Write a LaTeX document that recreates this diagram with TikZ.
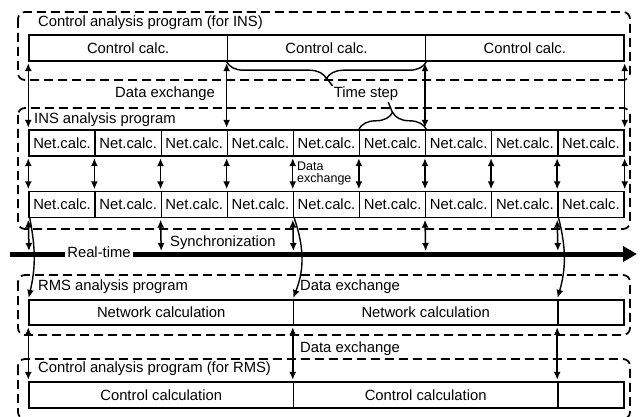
\documentclass[tikz,border=0pt]{standalone}
\usepackage{fontspec}
\setmainfont{Liberation Sans}
\usetikzlibrary{arrows.meta}
\usetikzlibrary{decorations.pathreplacing}

\begin{document}
\begin{tikzpicture}
        [
            x = 1pt, y = -1pt,
            > = {Latex[length=8pt, width=7pt]},
            font = \fontsize{14.8}{17}\selectfont,
            box/.style = {rectangle, draw=black, line width=1.4pt, inner sep=0pt, minimum height=26pt, align=center},
            net/.style = {box, minimum width=66.11pt},
            ctl/.style = {box, minimum width=198.33pt},
            wide/.style = {box, minimum width=264.44pt},
            group/.style = {draw=black, line width=1.8pt, dash pattern=on 9pt off 5pt, rounded corners=7pt},
            lbl/.style = {inner sep=0pt, anchor=west},
            link/.style = {<->, line width=1.5pt, shorten <=1.5pt, shorten >=1.5pt},
            brace/.style = {decorate, decoration={brace, amplitude=17pt}, line width=1.4pt},
            timeline/.style = {-{Triangle[length=14pt, width=15pt]}, line width=5pt}
        ]
        \useasboundingbox (0, 0) rectangle (640, 417);

        % program frames
        \draw [group] (18, 12) rectangle (630, 80);
        \draw [group] (18, 108) rectangle (630, 229);
        \draw [group] (18, 275) rectangle (630, 335);
        \draw [group] (18, 359) rectangle (630, 419);

        \node [lbl] at (38, 23) (ctlinslbl) {Control analysis program (for INS)};
        \node [lbl] at (34, 120) (inslbl) {INS analysis program};
        \node [lbl] at (38, 287) (rmslbl) {RMS analysis program};
        \node [lbl] at (38, 369) (ctlrmslbl) {Control analysis program (for RMS)};

        % control (INS)
        \node [ctl] at (128.17, 48) (cins1) {Control calc.};
        \node [ctl] at (326.5, 48) (cins2) {Control calc.};
        \node [ctl] at (524.83, 48) (cins3) {Control calc.};

        % INS net calc, two rows
        \node [net] at (62.06, 143) (na1) {Net.calc.};
        \node [net] at (128.17, 143) (na2) {Net.calc.};
        \node [net] at (194.28, 143) (na3) {Net.calc.};
        \node [net] at (260.39, 143) (na4) {Net.calc.};
        \node [net] at (326.5, 143) (na5) {Net.calc.};
        \node [net] at (392.61, 143) (na6) {Net.calc.};
        \node [net] at (458.72, 143) (na7) {Net.calc.};
        \node [net] at (524.83, 143) (na8) {Net.calc.};
        \node [net] at (590.94, 143) (na9) {Net.calc.};

        \node [net] at (62.06, 204.5) (nb1) {Net.calc.};
        \node [net] at (128.17, 204.5) (nb2) {Net.calc.};
        \node [net] at (194.28, 204.5) (nb3) {Net.calc.};
        \node [net] at (260.39, 204.5) (nb4) {Net.calc.};
        \node [net] at (326.5, 204.5) (nb5) {Net.calc.};
        \node [net] at (392.61, 204.5) (nb6) {Net.calc.};
        \node [net] at (458.72, 204.5) (nb7) {Net.calc.};
        \node [net] at (524.83, 204.5) (nb8) {Net.calc.};
        \node [net] at (590.94, 204.5) (nb9) {Net.calc.};

        % RMS network and control
        \node [wide, minimum height=25pt] at (161.22, 312.5) (rms1) {Network calculation};
        \node [wide, minimum height=25pt] at (425.67, 312.5) (rms2) {Network calculation};
        \node [net, minimum height=25pt] at (590.94, 312.5) (rms3) {};
        \node [wide] at (161.22, 395) (crms1) {Control calculation};
        \node [wide] at (425.67, 395) (crms2) {Control calculation};
        \node [net] at (590.94, 395) (crms3) {};

        % labels
        \node at (165, 94) (dxtop) {Data exchange};
        \node [inner sep=1pt] at (366, 94) (tstep) {Time step};
        \node [lbl, align=left, font=\fontsize{12.5}{12}\selectfont] at (297, 173) (dxnet) {Data\\exchange};
        \node [lbl] at (170, 243) (sync) {Synchronization};
        \node [lbl] at (300, 287) (dxrms) {Data exchange};
        \node [lbl] at (300, 349) (dxctl) {Data exchange};

        % real-time axis
        \coordinate (rtstart) at (10, 254);
        \coordinate (rtend) at (637, 254);
        \draw [timeline] (rtstart) -- (rtend);
        \node [fill=white, inner sep=2.5pt] at (99, 252) (rt) {Real-time};
        \coordinate (s0) at (29, 251);
        \coordinate (s2) at (161.22, 251);
        \coordinate (s4) at (293.44, 251);
        \coordinate (s6) at (425.67, 251);
        \coordinate (s8) at (557.89, 251);

        % time step braces
        \draw [brace] (cins2.south east) -- (cins2.south west);
        \draw [brace] (na6.north west) -- (na6.north east);
        \coordinate (bt1) at (326.5, 78);
        \coordinate (bt2) at (392.61, 113);
        \draw [line width=1.4pt] (bt1) -- (tstep.north west);
        \draw [line width=1.4pt] (bt2) -- (tstep.-20);

        % data exchange control <-> INS
        \draw [link] (cins1.south west) -- (na1.north west);
        \draw [link] (cins2.south west) -- (na4.north west);
        \draw [link] (cins3.south west) -- (na7.north west);
        \draw [link] (cins3.south east) -- (na9.north east);

        % data exchange between rows
        \draw [link] (na1.south west) -- (nb1.north west);
        \draw [link] (na2.south west) -- (nb2.north west);
        \draw [link] (na3.south west) -- (nb3.north west);
        \draw [link] (na4.south west) -- (nb4.north west);
        \draw [link] (na5.south west) -- (nb5.north west);
        \draw [link] (na6.south west) -- (nb6.north west);
        \draw [link] (na7.south west) -- (nb7.north west);
        \draw [link] (na8.south west) -- (nb8.north west);
        \draw [link] (na9.south west) -- (nb9.north west);
        \draw [link] (na9.south east) -- (nb9.north east);

        % synchronization
        \draw [link, shorten >=0pt] (nb1.south west) -- (s0);
        \draw [link, shorten >=0pt] (nb3.south west) -- (s2);
        \draw [link, shorten >=0pt] (nb5.south west) -- (s4);
        \draw [link, shorten >=0pt] (nb7.south west) -- (s6);
        \draw [link, shorten >=0pt] (nb9.south west) -- (s8);

        % INS -> RMS
        \draw [->, line width=1.4pt, shorten >=1.5pt] ([xshift=1.5pt]nb1.south west) to [bend left=12] (rms1.north west);
        \draw [->, line width=1.4pt, shorten >=1.5pt] ([xshift=1.5pt]nb5.south west) to [bend left=20] (rms2.north west);
        \draw [->, line width=1.4pt, shorten >=1.5pt] ([xshift=1.5pt]nb9.south west) to [bend left=15] (rms3.north west);

        % RMS <-> control (RMS)
        \draw [link] (rms1.south west) -- (crms1.north west);
        \draw [link] (rms2.south west) -- (crms2.north west);
        \draw [link] (rms3.south west) -- (crms3.north west);
    \end{tikzpicture}
\end{document}
